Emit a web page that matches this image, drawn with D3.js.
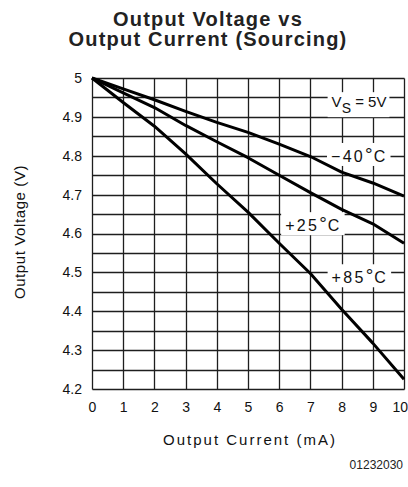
<!DOCTYPE html>
<html>
<head>
<meta charset="utf-8">
<script src="https://cdn.jsdelivr.net/npm/d3@7"></script>
<style>
  html, body { margin: 0; padding: 0; background: #fff; }
  svg { display: block; }
  text { font-family: "Liberation Sans", Arial, sans-serif; fill: #111; }
</style>
</head>
<body>
<svg id="chart" width="408" height="487"></svg>
<script>
// ---- data ----
const currents = [0, 1, 2, 3, 4, 5, 6, 7, 8, 9, 10];           // Output current (mA)
const vMinus40 = [5, 4.972, 4.944, 4.914, 4.886, 4.860, 4.830, 4.798, 4.758, 4.730, 4.696];
const vPlus25  = [5, 4.962, 4.924, 4.878, 4.836, 4.795, 4.750, 4.705, 4.662, 4.625, 4.575];
const vPlus85  = [5, 4.937, 4.876, 4.805, 4.728, 4.655, 4.575, 4.497, 4.405, 4.318, 4.225];
const xTicks = [0, 1, 2, 3, 4, 5, 6, 7, 8, 9, 10];
const yTicks = [4.2, 4.3, 4.4, 4.5, 4.6, 4.7, 4.8, 4.9, 5];
const yGrid  = [4.2, 4.25, 4.3, 4.35, 4.4, 4.45, 4.5, 4.55, 4.6, 4.65, 4.7, 4.75, 4.8, 4.85, 4.9, 4.95, 5];
const titleLines = ["Output Voltage vs", "Output Current (Sourcing)"];
const xTitle = "Output Current (mA)";
const yTitle = "Output Voltage (V)";
const figureId = "01232030";
// annotation labels: x (mA) of text start, baseline voltage
const labels = [
  {id: "vs",  x: 7.68, y: 4.925},
  {id: "m40", text: "\u221240", x: 7.66, y: 4.784},
  {id: "p25", text: "+25",      x: 6.19, y: 4.606},
  {id: "p85", text: "+85",      x: 7.68, y: 4.472}
];

// ---- layout ----
const svg = d3.select("#chart");
const L = 92, R = 404, T = 78, B = 389;
const x = d3.scaleLinear().domain([0, 10]).range([L, R]);
const y = d3.scaleLinear().domain([4.2, 5]).range([B, T]);
const px = v => Math.round(v) + 0.5;

// title
svg.append("text")
  .attr("x", 208).attr("y", 26)
  .attr("text-anchor", "middle")
  .style("font-weight", "bold").style("font-size", "20px").style("letter-spacing", "1.2px").style("fill", "#222")
  .selectAll("tspan").data(titleLines).join("tspan")
  .attr("x", 208).attr("dy", (d, i) => i === 0 ? 0 : 20)
  .text(d => d);

// grid
const grid = svg.append("g").attr("stroke", "#1e1e1e").attr("stroke-width", 1.3);
grid.selectAll("line.vg").data(xTicks).join("line").attr("class", "vg")
  .attr("x1", d => px(x(d))).attr("x2", d => px(x(d))).attr("y1", px(T)).attr("y2", px(B));
grid.selectAll("line.hg").data(yGrid).join("line").attr("class", "hg")
  .attr("y1", d => px(y(d))).attr("y2", d => px(y(d))).attr("x1", px(L)).attr("x2", px(R));

// axes (labels only, no domain/ticks)
const xAxis = d3.axisBottom(x).tickValues(xTicks).tickSize(0).tickPadding(13).tickFormat(d3.format("d"));
const gx = svg.append("g").attr("transform", `translate(0,${B})`).call(xAxis);
gx.select(".domain").remove();
gx.selectAll("text").style("font-size", "14px").style("font-family", "Liberation Sans, Arial, sans-serif").attr("fill", "#111");
gx.selectAll(".tick").filter(d => d === 10).select("text").attr("text-anchor", "end").attr("dx", 3.5);

const yAxis = d3.axisLeft(y).tickValues(yTicks).tickSize(0).tickPadding(10)
  .tickFormat(d => d === 5 ? "5" : d3.format(".1f")(d));
const gy = svg.append("g").attr("transform", `translate(${L},0)`).call(yAxis);
gy.select(".domain").remove();
gy.selectAll("text").style("font-size", "14px").style("font-family", "Liberation Sans, Arial, sans-serif").attr("fill", "#111");

// annotation labels with white boxes
const annG = svg.append("g");
labels.forEach(lb => {
  const g = annG.append("g");
  const t = g.append("text").attr("x", x(lb.x)).attr("y", y(lb.y))
    .style("font-size", "16px");
  if (lb.id === "vs") {
    t.style("font-size", "15px");
    t.append("tspan").text("V");
    t.append("tspan").attr("dy", 6).style("font-size", "14px").text("S");
    t.append("tspan").attr("dy", -6).text(" = 5V");
  } else {
    t.style("letter-spacing", "2.3px");
    t.append("tspan").text(lb.text);
    t.append("tspan").attr("dy", -1).style("font-size", "19px").style("letter-spacing", "1px").text("\u00B0");
    t.append("tspan").attr("dy", 1).text("C");
  }
  const bb = t.node().getBBox();
  g.insert("rect", "text")
    .attr("x", bb.x - 4).attr("y", bb.y - 1)
    .attr("width", bb.width + 7).attr("height", bb.height + 2)
    .attr("fill", "#fff");
});

// curves
const line = d3.line().x(d => x(d[0])).y(d => y(d[1]));
[vMinus40, vPlus25, vPlus85].forEach(series => {
  svg.append("path")
    .datum(currents.map((c, i) => [c, series[i]]))
    .attr("d", line)
    .attr("fill", "none").attr("stroke", "#000").attr("stroke-width", 3)
    .attr("stroke-linejoin", "round");
});

// axis titles
svg.append("text")
  .attr("x", 250).attr("y", 445).attr("text-anchor", "middle")
  .style("font-size", "15px").style("letter-spacing", "2px")
  .text(xTitle);
svg.append("text")
  .attr("transform", "translate(25,232) rotate(-90)").attr("text-anchor", "middle")
  .style("font-size", "15px").style("letter-spacing", "0.6px")
  .text(yTitle);

// figure id
svg.append("text")
  .attr("x", 403).attr("y", 469).attr("text-anchor", "end")
  .style("font-size", "12px").style("fill", "#222")
  .text(figureId);
</script>
</body>
</html>
